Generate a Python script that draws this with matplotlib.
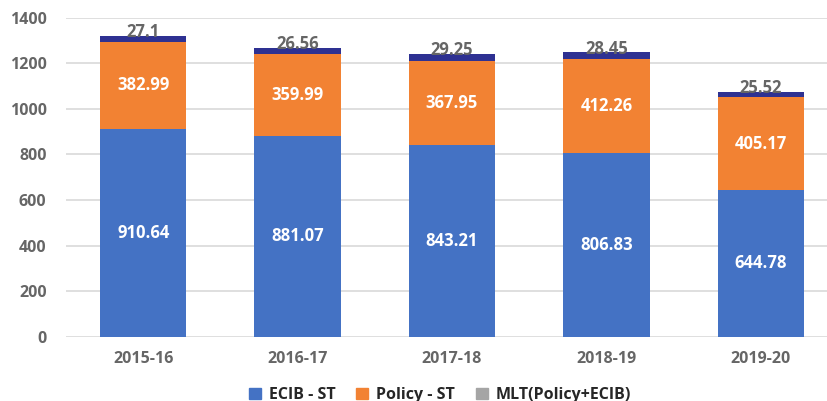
import matplotlib
matplotlib.use("Agg")
import matplotlib.pyplot as plt
from matplotlib.patches import Patch

categories = ["2015-16", "2016-17", "2017-18", "2018-19", "2019-20"]
ecib_st = [910.64, 881.07, 843.21, 806.83, 644.78]
policy_st = [382.99, 359.99, 367.95, 412.26, 405.17]
mlt = [27.1, 26.56, 29.25, 28.45, 25.52]
series_names = ["ECIB - ST", "Policy - ST", "MLT(Policy+ECIB)"]

plt.rcParams['font.family'] = ['Open Sans', 'DejaVu Sans']

fig = plt.figure(figsize=(8.28, 4.01), dpi=100)
ax = fig.add_axes([66/828, 1-337/401, 1-66/828, (337-17.5)/401])

blue = "#4472C4"
orange = "#F28233"
navy = "#2E3192"
gray_leg = "#A5A5A5"
txt_gray = "#666666"

x = list(range(len(categories)))
w = 0.56
ax.bar(x, ecib_st, w, color=blue, zorder=2)
ax.bar(x, policy_st, w, bottom=ecib_st, color=orange, zorder=2)
bot2 = [a + b for a, b in zip(ecib_st, policy_st)]
ax.bar(x, mlt, w, bottom=bot2, color=navy, zorder=2)

for i in x:
    ax.text(i, ecib_st[i] / 2, f"{ecib_st[i]:.2f}", ha='center', va='center',
            color='white', fontsize=12, fontweight='bold', zorder=3)
    ax.text(i, ecib_st[i] + policy_st[i] / 2, f"{policy_st[i]:.2f}", ha='center', va='center',
            color='white', fontsize=12, fontweight='bold', zorder=3)
    ax.text(i, bot2[i] + mlt[i] - 6, f"{mlt[i]:g}", ha='center', va='baseline',
            color=txt_gray, fontsize=12, fontweight='bold', zorder=3)

ax.set_xlim(-0.5, 4.5 - 10/154.5)
ax.set_ylim(0, 1400)
ax.set_yticks(range(0, 1401, 200))
ax.set_xticks(x)
ax.set_xticklabels(categories)
ax.grid(axis='y', color='#D9D9D9', linewidth=1.2, zorder=0)
for s in ax.spines.values():
    s.set_visible(False)
ax.tick_params(axis='both', length=0, labelcolor=txt_gray, labelsize=11.5)
for lab in ax.get_xticklabels() + ax.get_yticklabels():
    lab.set_fontweight('bold')
ax.tick_params(axis='y', pad=14)
ax.tick_params(axis='x', pad=10)

handles = [Patch(color=blue), Patch(color=orange), Patch(color=gray_leg)]
leg = fig.legend(handles, series_names, loc='center', bbox_to_anchor=(440/828, 1-395/401),
                 ncol=3, frameon=False, handlelength=0.75, handleheight=0.75,
                 columnspacing=1.3, handletextpad=0.5,
                 prop={'weight': 'bold', 'size': 11.5})
for t in leg.get_texts():
    t.set_color('#262626')

fig.savefig("out.png", dpi=100)
